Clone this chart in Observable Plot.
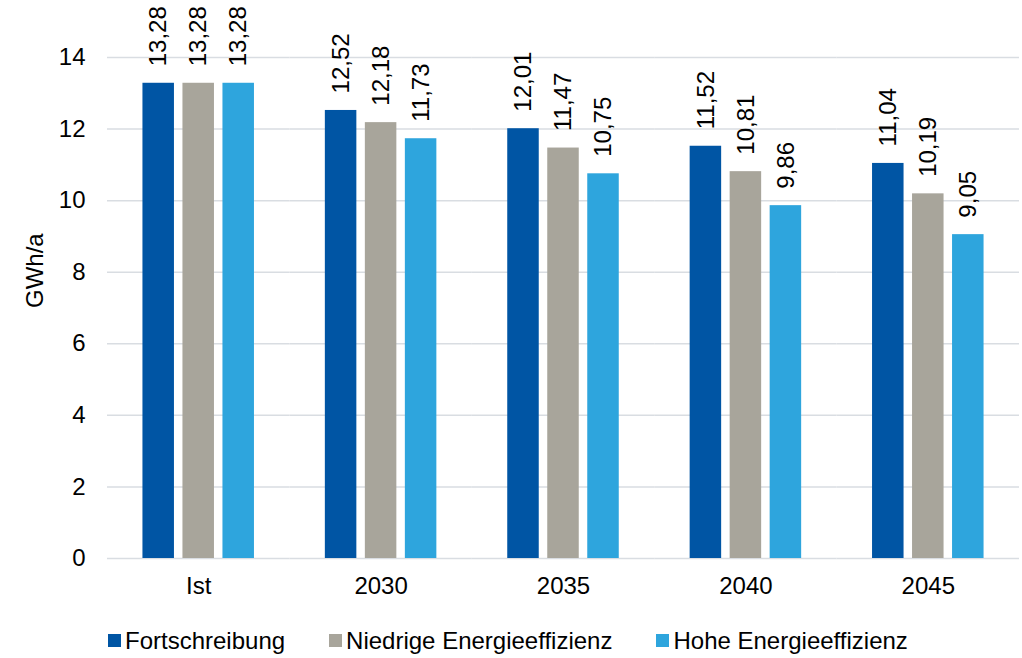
<!DOCTYPE html>
<html lang="de">
<head>
<meta charset="utf-8">
<script src="https://cdn.jsdelivr.net/npm/d3@7"></script>
<script src="https://cdn.jsdelivr.net/npm/@observablehq/plot@0.6"></script>
<style>
  html, body { margin: 0; padding: 0; background: #fff; }
  body { width: 1022px; height: 658px; overflow: hidden; font-family: "Liberation Sans", Arial, sans-serif; }
  #chart svg { display: block; }
  .legend { display: flex; align-items: center; gap: 44px; padding-left: 108px; padding-top: 8px; height: 35px; font-size: 24px; color: #000; }
  .legend .item { display: flex; align-items: center; gap: 4px; }
  .legend .swatch { width: 13px; height: 13px; display: inline-block; }
</style>
</head>
<body>
<div id="chart"></div>
<div class="legend" id="legend"></div>
<script>
// Stromverbrauch je Szenario (GWh/a)
const categories = ["Ist", "2030", "2035", "2040", "2045"];
const series = ["Fortschreibung", "Niedrige Energieeffizienz", "Hohe Energieeffizienz"];
const fortschreibung = [13.28, 12.52, 12.01, 11.52, 11.04];
const niedrigeEffizienz = [13.28, 12.18, 11.47, 10.81, 10.19];
const hoheEffizienz = [13.28, 11.73, 10.75, 9.86, 9.05];
const colors = ["#0055A4", "#A8A59B", "#2EA5DD"];
const yTicks = [0, 2, 4, 6, 8, 10, 12, 14];

const valuesBySeries = [fortschreibung, niedrigeEffizienz, hoheEffizienz];
const rows = [];
categories.forEach((cat, i) => {
  series.forEach((s, j) => rows.push({cat, series: s, value: valuesBySeries[j][i]}));
});

const fmt = v => v.toFixed(2).replace(".", ",");
const font = "Liberation Sans, Arial, sans-serif";

const chart = Plot.plot({
  width: 1022,
  height: 615,
  marginLeft: 107,
  marginRight: 3,
  marginTop: 57,
  marginBottom: 57,
  style: {fontFamily: font, fontSize: "24px", color: "#000", background: "#fff"},
  fx: {domain: categories, padding: 0, round: false, axis: null},
  x: {domain: series, axis: null, round: false, paddingInner: 0.2125, paddingOuter: 0.886},
  y: {domain: [0, 14], axis: null},
  color: {domain: series, range: colors},
  marks: [
    Plot.gridY(yTicks, {stroke: "#D9DDE2", strokeOpacity: 1, strokeWidth: 1.5}),
    Plot.axisY({ticks: yTicks, tickSize: 0, tickPadding: 22, fontSize: 24, label: null}),
    Plot.axisFx({anchor: "bottom", tickSize: 0, tickPadding: 18, fontSize: 24, label: null}),
    Plot.barY(rows, {fx: "cat", x: "series", y: "value", fill: "series"}),
    Plot.text(rows, {
      fx: "cat", x: "series", y: "value",
      text: d => fmt(d.value),
      rotate: -90, textAnchor: "start", dy: -17,
      fontSize: 24, fill: "#000"
    }),
    Plot.text([{cat: "Ist"}], {
      fx: "cat", text: () => "GWh/a", frameAnchor: "left",
      rotate: -90, dx: -72, fontSize: 24, fill: "#000"
    })
  ]
});
document.getElementById("chart").appendChild(chart);

const legend = document.getElementById("legend");
series.forEach((s, i) => {
  const item = document.createElement("span");
  item.className = "item";
  const sw = document.createElement("span");
  sw.className = "swatch";
  sw.style.background = colors[i];
  const label = document.createElement("span");
  label.textContent = s;
  item.append(sw, label);
  legend.appendChild(item);
});
</script>
</body>
</html>
